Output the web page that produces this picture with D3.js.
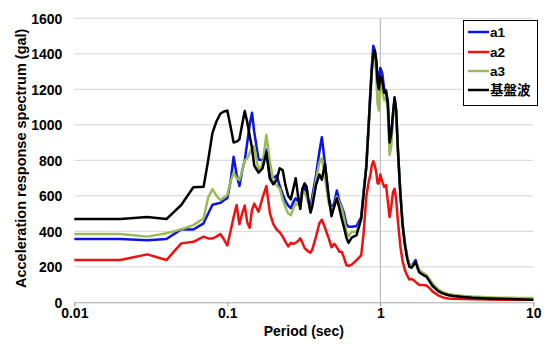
<!DOCTYPE html>
<html><head><meta charset="utf-8">
<script src="https://cdn.jsdelivr.net/npm/d3@7"></script>
<style>
html,body{margin:0;padding:0;background:#fff;}
svg text{font-family:"Liberation Sans",Arial,"Noto Sans CJK JP",sans-serif;font-weight:bold;}
</style></head>
<body><svg id="c" width="557" height="344"></svg>
<script>
const periods = [0.01,0.02,0.03,0.04,0.05,0.06,0.07,0.075,0.08,0.085,0.09,0.095,0.10,0.105,0.11,0.115,0.12,0.125,0.13,0.135,0.14,0.145,0.15,
0.16,0.17,0.18,0.19,0.20,0.21,0.22,0.23,0.24,0.25,0.26,0.27,0.28,0.29,0.30,0.31,0.32,0.33,0.34,0.35,0.36,
0.38,0.40,0.415,0.435,0.46,0.48,0.50,0.52,0.54,0.56,0.58,0.60,0.62,0.65,0.70,0.75,0.78,0.81,0.84,
0.86,0.88,0.90,0.92,0.94,0.96,0.98,1.00,1.03,1.06,1.09,1.12,1.15,1.18,1.21,1.24,1.27,1.30,
1.35,1.40,1.45,1.50,1.55,1.60,1.65,1.70,1.75,1.80,1.9,2.0,2.1,2.2,2.4,2.6,2.8,3.0,3.5,4,5,6,7,8,10];

const a1 = [357,357,350,357,411,410,445,500,550,555,560,575,586,680,820,720,655,740,800,900,1000,1068,960,
805,800,860,700,700,715,655,610,570,545,530,565,586,570,560,640,650,600,565,535,600,
717,850,930,780,590,525,560,630,570,540,500,440,426,426,430,480,630,770,1010,
1180,1330,1445,1420,1370,1260,1260,1320,1290,1200,1195,1130,900,950,1060,1150,1080,880,
630,440,330,255,210,205,222,238,205,175,165,150,122,95,64,50,42,37,31,27,23,21,19,18,16];

const a2 = [238,238,270,238,332,341,370,360,360,370,385,355,320,400,480,548,440,500,545,450,420,520,555,
510,590,655,500,440,410,395,370,340,315,335,330,335,345,360,335,305,295,285,280,300,
370,445,465,420,360,310,330,310,285,285,250,210,205,212,238,265,400,595,680,
715,770,795,770,735,670,670,720,680,650,660,570,480,540,620,640,580,470,
320,230,180,150,128,132,125,115,105,98,97,95,80,60,38,26,22,20,18,17,16,15,15,15,15];

const a3 = [385,385,370,389,411,435,473,590,637,600,576,590,605,680,730,700,689,740,800,810,840,870,880,
740,780,943,790,680,660,640,580,535,500,490,530,558,548,540,620,620,590,560,510,570,
689,790,811,700,560,525,540,595,560,530,470,400,372,398,398,470,620,760,990,
1150,1300,1400,1405,1280,1120,1080,1260,1190,1140,1150,1080,830,880,1040,1120,1050,860,
630,440,330,255,210,205,215,228,205,180,165,155,130,105,72,55,47,42,36,32,28,26,25,24,24];

const base = [469,469,480,469,548,648,651,800,955,1020,1062,1075,1080,990,900,905,918,1000,1078,1015,940,870,770,
730,755,845,695,665,690,755,745,660,600,580,640,699,600,525,640,670,650,570,505,545,
660,720,690,780,590,485,540,586,530,470,420,365,335,365,379,470,620,760,1000,
1160,1310,1400,1420,1360,1240,1200,1275,1250,1180,1185,1120,900,950,1060,1155,1080,880,
620,430,320,245,200,195,210,228,195,168,155,145,118,92,62,48,40,35,30,26,22,20,18,17,15];

const seriesNames = ["a1","a2","a3","基盤波"];
const seriesColors = ["#0a14e6","#f01010","#9bbb59","#000000"];
const yTicks = [0,200,400,600,800,1000,1200,1400,1600];
const xTicks = [0.01,0.1,1,10];
const xTickLabels = ["0.01","0.1","1","10"];

(function(){
const svg = d3.select("#c");
const pL = 74.3, pR = 533.3, pT = 18.3, pB = 302.3;
const x = d3.scaleLog().domain([0.01,10]).range([pL,pR]);
const y = d3.scaleLinear().domain([0,1600]).range([pB,pT]);

svg.append("g").selectAll("line").data(yTicks.filter(d=>d>0)).join("line")
  .attr("x1",pL).attr("x2",pR).attr("y1",d=>y(d)).attr("y2",d=>y(d))
  .attr("stroke","#d4d4d4").attr("stroke-width",1);
svg.append("line").attr("x1",x(1)).attr("x2",x(1)).attr("y1",pT).attr("y2",pB+4)
  .attr("stroke","#b0b0b0").attr("stroke-width",1);
const xa = svg.append("g").attr("transform",`translate(0,${pB})`)
  .call(d3.axisBottom(x).tickValues(xTicks).tickFormat((d,i)=>xTickLabels[i]).tickSizeOuter(0).tickSize(4).tickPadding(2));
xa.select(".domain").attr("stroke","#a8a8a8");
xa.selectAll(".tick line").attr("stroke","#a8a8a8");
xa.selectAll("text").attr("font-size",14).attr("fill","#000").attr("font-family",null);
const ya = svg.append("g").attr("transform",`translate(${pL},0)`)
  .call(d3.axisLeft(y).tickValues(yTicks).tickFormat(d3.format("d")).tickSize(0).tickPadding(12));
ya.select(".domain").remove();
ya.selectAll("text").attr("font-size",14).attr("fill","#000").attr("font-family",null).attr("dy","0.36em");

svg.append("text").attr("x",(pL+pR)/2).attr("y",335.5).attr("text-anchor","middle")
  .attr("font-size",14).text("Period (sec)");
svg.append("text").attr("transform",`translate(25.5,${(pT+pB)/2 - 2}) rotate(-90)`)
  .attr("text-anchor","middle").attr("font-size",14.5).text("Acceleration response spectrum (gal)");

const allSeries = [a1,a2,a3,base];
const line = d3.line().x((d,i)=>x(periods[i])).y(d=>y(d));
allSeries.forEach((s,k)=>{
  svg.append("path").datum(s).attr("d",line).attr("fill","none")
    .attr("stroke",seriesColors[k]).attr("stroke-width",2.5).attr("stroke-linejoin","round");
});

const lg = svg.append("g");
lg.append("rect").attr("x",463.5).attr("y",20.5).attr("width",74).attr("height",85)
  .attr("fill","#fff").attr("stroke","#000").attr("stroke-width",1);
const ly = [32,52,71,90];
seriesNames.forEach((n,k)=>{
  lg.append("line").attr("x1",468).attr("x2",489).attr("y1",ly[k]).attr("y2",ly[k])
    .attr("stroke",seriesColors[k]).attr("stroke-width",2.5);
  lg.append("text").attr("x",490).attr("y",ly[k]+5).attr("font-size",13.5).text(n);
});
})();
</script></body></html>
